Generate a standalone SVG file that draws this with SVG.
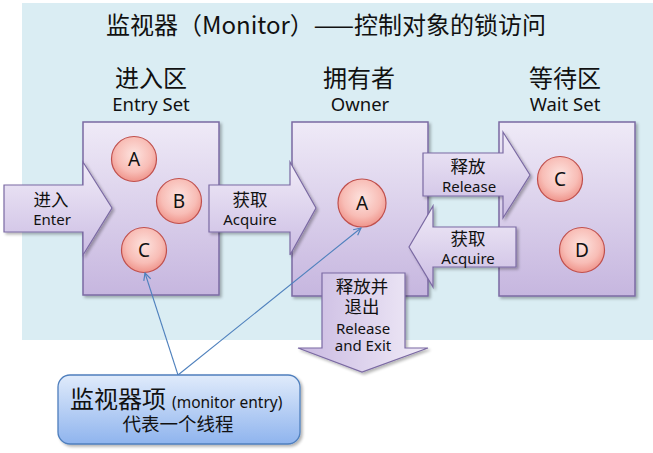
<svg xmlns="http://www.w3.org/2000/svg" width="653" height="453" viewBox="0 0 653 453">
<defs>
<linearGradient id="gBox" x1="0" y1="0" x2="0" y2="1">
<stop offset="0" stop-color="#efeaf7"/>
<stop offset="1" stop-color="#c6b6df"/>
</linearGradient>
<linearGradient id="gArr" x1="0" y1="0" x2="0" y2="1">
<stop offset="0" stop-color="#f1ecf8"/>
<stop offset="1" stop-color="#cbbce3"/>
</linearGradient>
<linearGradient id="gArrH" x1="0" y1="0" x2="1" y2="0">
<stop offset="0" stop-color="#c9b9e1"/>
<stop offset="1" stop-color="#f1ecf8"/>
</linearGradient>
<radialGradient id="gCir" cx="0.5" cy="0.4" r="0.6">
<stop offset="0" stop-color="#fde3df"/>
<stop offset="0.65" stop-color="#f8bdb6"/>
<stop offset="1" stop-color="#ef948b"/>
</radialGradient>
<linearGradient id="gMon" x1="0" y1="0" x2="0" y2="1">
<stop offset="0" stop-color="#e0ebfb"/>
<stop offset="1" stop-color="#8fb4ee"/>
</linearGradient>
<filter id="sh" x="-10%" y="-10%" width="120%" height="120%">
<feGaussianBlur in="SourceAlpha" stdDeviation="1.5"/>
<feOffset dx="1.5" dy="2" result="o"/>
<feComponentTransfer><feFuncA type="linear" slope="0.3"/></feComponentTransfer>
<feMerge><feMergeNode/><feMergeNode in="SourceGraphic"/></feMerge>
</filter>
<marker id="open" viewBox="0 0 10 10" refX="9" refY="5" markerWidth="9" markerHeight="9" orient="auto" markerUnits="userSpaceOnUse">
<path d="M1,1 L9,5 L1,9" fill="none" stroke="#4f81bd" stroke-width="1.3"/>
</marker>
</defs>
<style>
.box{fill:url(#gBox);stroke:#7b6aa3;stroke-width:1.5;filter:url(#sh)}
.arr{fill:url(#gArr);stroke:#7b6aa3;stroke-width:1.2;filter:url(#sh)}
.cir{fill:url(#gCir);stroke:#c0504d;stroke-width:1.2}
.t{font-family:"Noto Sans CJK SC","Noto Sans",sans-serif;fill:#111;text-anchor:middle}
.l{font-family:"Noto Sans","Open Sans",sans-serif;fill:#111;text-anchor:middle}
.cj{font-size:17.5px}
.en{font-size:15px}
.hd{font-size:24px}
.sub{font-size:18.5px}
.lt{font-size:19px}
.conn{stroke:#4f81bd;stroke-width:1.1;fill:none}
</style>
<rect x="22" y="3" width="631" height="337" fill="#daedf3"/>
<text class="t" x="106" y="34" font-size="24" style="text-anchor:start">监视器（Monitor）——控制对象的锁访问</text>

<g id="entry-set">
<text class="t hd" x="151" y="87">进入区</text>
<text class="l sub" x="151" y="111">Entry Set</text>
<rect class="box" x="83" y="122" width="136" height="173"/>
<g id="entry-A"><circle class="cir" cx="134" cy="159" r="22.5"/><text class="l lt" x="134" y="166">A</text></g>
<g id="entry-B"><circle class="cir" cx="179" cy="201" r="22.5"/><text class="l lt" x="179" y="208">B</text></g>
<g id="entry-C"><circle class="cir" cx="144" cy="250" r="22.5"/><text class="l lt" x="144" y="257">C</text></g>
</g>

<g id="owner">
<text class="t hd" x="359" y="87">拥有者</text>
<text class="l sub" x="360" y="111">Owner</text>
<rect class="box" x="292" y="122" width="136" height="174"/>
<g id="owner-A"><circle class="cir" cx="362" cy="203" r="24"/><text class="l lt" x="362" y="210">A</text></g>
</g>

<g id="wait-set">
<text class="t hd" x="565" y="87">等待区</text>
<text class="l sub" x="565" y="111">Wait Set</text>
<rect class="box" x="499" y="122" width="136" height="174"/>
<g id="wait-C"><circle class="cir" cx="560" cy="179" r="22.5"/><text class="l lt" x="560" y="186">C</text></g>
<g id="wait-D"><circle class="cir" cx="582" cy="250" r="22.5"/><text class="l lt" x="582" y="257">D</text></g>
</g>

<g id="arrow-enter">
<polygon class="arr" points="4,185 83,185 83,162 112,208 83,255 83,232 4,232"/>
<text class="t cj" x="51" y="206">进入</text>
<text class="l en" x="52" y="225">Enter</text>
</g>
<g id="arrow-acquire">
<polygon class="arr" points="209,185 290,185 290,162 316,208 290,255 290,232 209,232"/>
<text class="t cj" x="250" y="206">获取</text>
<text class="l en" x="250" y="225">Acquire</text>
</g>
<g id="arrow-release">
<polygon class="arr" points="423,153 503,153 503,132 530,175 503,218 503,196 423,196"/>
<text class="t cj" x="468" y="173">释放</text>
<text class="l en" x="469" y="192">Release</text>
</g>
<g id="arrow-acquire-back">
<polygon class="arr" points="516,227 433,227 433,206 409,247 433,287 433,267 516,267"/>
<text class="t cj" x="468" y="245">获取</text>
<text class="l en" x="468" y="264">Acquire</text>
</g>
<g id="arrow-release-exit">
<polygon points="322,273 405,273 405,348 428,348 362,372 298,348 322,348" fill="url(#gArrH)" stroke="#7b6aa3" stroke-width="1.2" filter="url(#sh)"/>
<text class="t cj" x="362" y="293">释放并</text>
<text class="t cj" x="362" y="313">退出</text>
<text class="l en" x="363" y="334">Release</text>
<text class="l en" x="363" y="351">and Exit</text>
</g>

<g id="connectors">
<line class="conn" x1="178" y1="375" x2="145" y2="273" marker-end="url(#open)"/>
<line class="conn" x1="178" y1="375" x2="361" y2="228" marker-end="url(#open)"/>
</g>

<g id="monitor-entry">
<rect x="58" y="375" width="242" height="69" rx="12" fill="url(#gMon)" stroke="#4f7fbd" stroke-width="1.3" filter="url(#sh)"/>
<text class="t" x="70" y="408" style="text-anchor:start"><tspan font-size="24">监视器项</tspan><tspan font-family="Noto Sans, sans-serif" font-size="15.5" dx="6">(monitor entry)</tspan></text>
<text class="t" x="178" y="431" font-size="18.5">代表一个线程</text>
</g>
</svg>
